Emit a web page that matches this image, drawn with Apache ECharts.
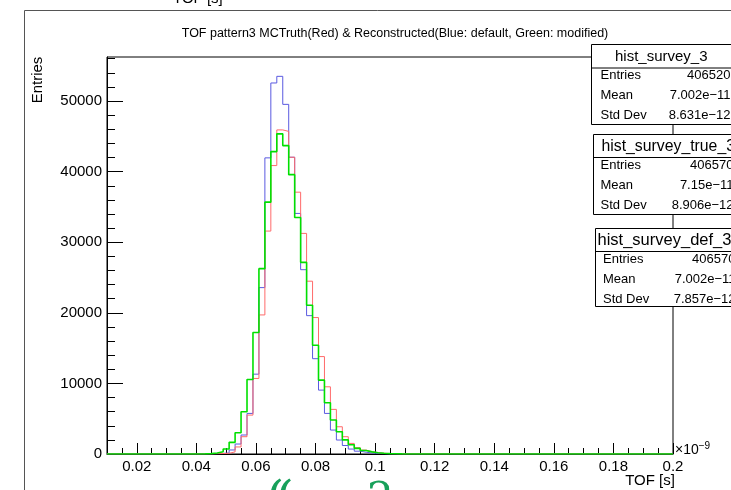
<!DOCTYPE html>
<html><head><meta charset="utf-8">
<script src="https://cdn.jsdelivr.net/npm/echarts@6/dist/echarts.min.js"></script>
<style>html,body{margin:0;padding:0;background:#fff}#c{width:731px;height:490px}</style>
</head><body><div id="c"></div>
<script>
// ---- data (bins of width 0.002 starting at 0.041, units of 1e-9 s) ----
const binStart = 0.041;
const binWidth = 0.002;
const trueCounts = [10, 20, 40, 70, 100, 300, 1000, 2450, 5510, 10700, 19700, 31580, 40860, 45910, 45700, 42040, 37090, 31250, 24480, 19330, 13800, 9520, 6320, 3860, 2450, 1500, 900, 550, 330, 200, 110, 60, 30, 15];
const defCounts  = [10, 20, 50, 80, 150, 570, 1414, 2690, 5750, 11310, 23570, 41950, 52560, 53500, 49530, 42040, 34080, 26110, 19600, 13500, 9050, 5750, 3390, 1980, 1200, 700, 400, 250, 150, 80, 50, 30, 15, 10];
const modCounts  = [20, 50, 150, 330, 700, 1650, 3010, 5980, 10560, 17210, 26260, 35680, 42840, 45350, 43690, 39570, 33500, 27150, 21070, 15400, 10460, 7250, 4810, 3150, 2000, 1300, 800, 500, 300, 180, 100, 60, 30, 15];
const xTickValues = [0.02, 0.04, 0.06, 0.08, 0.1, 0.12, 0.14, 0.16, 0.18, 0.2];
const xTickLabels = ['0.02', '0.04', '0.06', '0.08', '0.1', '0.12', '0.14', '0.16', '0.18', '0.2'];
const yTickValues = [0, 10000, 20000, 30000, 40000, 50000];
const yTickLabels = ['0', '10000', '20000', '30000', '40000', '50000'];
const statNames   = ['hist_survey_3', 'hist_survey_true_3', 'hist_survey_def_3'];
const statEntries = ['406520', '406570', '406570'];
const statMeans   = ['7.002e\u221211', '7.15e\u221211', '7.002e\u221211'];
const statStds    = ['8.631e\u221212', '8.906e\u221212', '7.857e\u221212'];

const X_MIN = 0.01, X_MAX = 0.2, Y_MAX = 56240;

function steps(counts) {
  const pts = [[X_MIN, 0]];
  counts.forEach((v, i) => pts.push([+(binStart + i * binWidth).toFixed(4), v]));
  pts.push([+(binStart + counts.length * binWidth).toFixed(4), 0]);
  pts.push([X_MAX, 0]);
  return pts;
}
const minorX = [];
for (let k = 0; k <= 38; k++) minorX.push(+(X_MIN + k * 0.005).toFixed(4));
const minorY = [];
for (let k = 0; k <= 28; k++) minorY.push(k * 2000);

const FONT = 'Liberation Sans, Arial, Helvetica, sans-serif';
const lab = (vals, labs) => v => { const i = vals.findIndex(t => Math.abs(t - v) < 1e-9); return i >= 0 ? labs[i] : ''; };

const chart = echarts.init(document.getElementById('c'), null, { renderer: 'canvas' });

// stat boxes
const boxGeo = [
  { left: 591.5, top: 44.5, right: 733, head: 68, hx: 615, hs: 15 },
  { left: 593.5, top: 134.5, right: 737, head: 157.5, hx: 601.5, hs: 15.8 },
  { left: 595.5, top: 228.5, right: 739, head: 251.5, hx: 597.5, hs: 16.5 }
];
const valRight = [730.5, 733.5, 735.5];
const labLeft = [600.5, 600.5, 603];
const graphics = [];
// outer pad border (partial)
graphics.push({ type: 'polyline', shape: { points: [[24.5, 490], [24.5, 10.5], [731, 10.5]] }, style: { stroke: '#555', lineWidth: 1, fill: null }, z: 1 });
graphics.push({ type: 'text', x: 173, y: -9, style: { text: 'TOF [s]', font: '15px ' + FONT, fill: '#000' }, z: 5 });
graphics.push({ type: 'text', x: 395, y: 34, style: { text: 'TOF pattern3 MCTruth(Red) & Reconstructed(Blue: default, Green: modified)', font: '12.5px ' + FONT, fill: '#000', align: 'center', verticalAlign: 'middle' }, z: 5 });
graphics.push({ type: 'text', x: 38, y: 80, rotation: Math.PI / 2, style: { text: 'Entries', font: '15px ' + FONT, fill: '#000', align: 'center', verticalAlign: 'middle' }, z: 5 });
graphics.push({ type: 'text', x: 650, y: 481, style: { text: 'TOF [s]', font: '15px ' + FONT, fill: '#000', align: 'center', verticalAlign: 'middle' }, z: 5 });
graphics.push({ type: 'text', x: 675, y: 459, style: { text: '\u00d710{s|\u22129}', font: '14px ' + FONT, fill: '#000', verticalAlign: 'bottom', rich: { s: { fontSize: 10, fontFamily: FONT, verticalAlign: 'top', padding: [0, 0, 8, 0] } } }, z: 5 });
// partially visible large green glyphs at the bottom edge (from an overlapping pad)
graphics.push({ type: 'text', x: 267, y: 478, style: { text: '\u201c', font: 'italic 50px DejaVu Serif, serif', fill: '#17a05a', verticalAlign: 'top' }, z: 5 });
graphics.push({ type: 'text', x: 367, y: 480, style: { text: '2', font: '42px DejaVu Serif, serif', fill: '#17a05a', verticalAlign: 'top' }, z: 5 });
boxGeo.forEach((b, i) => {
  const h = (i === 2 ? 78 : 80);
  graphics.push({ type: 'rect', shape: { x: b.left, y: b.top, width: b.right - b.left, height: h }, style: { fill: '#fff', stroke: '#000', lineWidth: 1 }, z: 10 });
  graphics.push({ type: 'line', shape: { x1: b.left, y1: b.head, x2: b.right, y2: b.head }, style: { stroke: '#000', lineWidth: 1 }, z: 11 });
  graphics.push({ type: 'text', x: b.hx, y: (b.top + b.head) / 2 + 0.5, style: { text: statNames[i], font: b.hs + 'px ' + FONT, fill: '#000', verticalAlign: 'middle' }, z: 12 });
  const rows = [['Entries', statEntries[i]], ['Mean', statMeans[i]], ['Std Dev', statStds[i]]];
  rows.forEach((r, k) => {
    const y = b.head + 7.5 + k * 20;
    graphics.push({ type: 'text', x: labLeft[i], y: y, style: { text: r[0], font: '13px ' + FONT, fill: '#000', verticalAlign: 'middle' }, z: 12 });
    graphics.push({ type: 'text', x: valRight[i], y: y, style: { text: r[1], font: '13px ' + FONT, fill: '#000', align: 'right', verticalAlign: 'middle' }, z: 12 });
  });
});

const mkSeries = (name, counts, color, w) => ({
  name, type: 'line', step: 'end', data: steps(counts), symbol: 'none', showSymbol: false,
  lineStyle: { color, width: w }, itemStyle: { color }, animation: false, clip: true, z: 3
});

chart.setOption({
  animation: false,
  grid: { left: 107, top: 57, right: 58, bottom: 36, show: true, borderColor: '#000', borderWidth: 1, backgroundColor: 'transparent' },
  xAxis: [
    { type: 'value', min: X_MIN, max: X_MAX, position: 'bottom',
      axisLine: { show: true, lineStyle: { color: '#000', width: 1 } },
      axisTick: { show: true, inside: true, length: 11, customValues: xTickValues, lineStyle: { color: '#000' } },
      axisLabel: { customValues: xTickValues, formatter: lab(xTickValues, xTickLabels), color: '#000', fontSize: 15, fontFamily: FONT, margin: 5 },
      splitLine: { show: false } },
    { type: 'value', min: X_MIN, max: X_MAX, position: 'bottom', offset: 0,
      axisLine: { show: false },
      axisTick: { show: true, inside: true, length: 6, customValues: minorX, lineStyle: { color: '#000' } },
      axisLabel: { show: false }, splitLine: { show: false } }
  ],
  yAxis: [
    { type: 'value', min: 0, max: Y_MAX, position: 'left',
      axisLine: { show: true, lineStyle: { color: '#000', width: 1 } },
      axisTick: { show: true, inside: true, length: 16, customValues: yTickValues, lineStyle: { color: '#000' } },
      axisLabel: { customValues: yTickValues, formatter: lab(yTickValues, yTickLabels), color: '#000', fontSize: 15, fontFamily: FONT, margin: 5 },
      splitLine: { show: false } },
    { type: 'value', min: 0, max: Y_MAX, position: 'left', offset: 0,
      axisLine: { show: false },
      axisTick: { show: true, inside: true, length: 8, customValues: minorY, lineStyle: { color: '#000' } },
      axisLabel: { show: false }, splitLine: { show: false } }
  ],
  series: [
    mkSeries('default', defCounts, '#5a5ae0', 1),
    mkSeries('MCTruth', trueCounts, '#ff6a6a', 1),
    mkSeries('modified', modCounts, '#00e000', 1.6)
  ],
  graphic: { elements: graphics }
});
</script></body></html>
